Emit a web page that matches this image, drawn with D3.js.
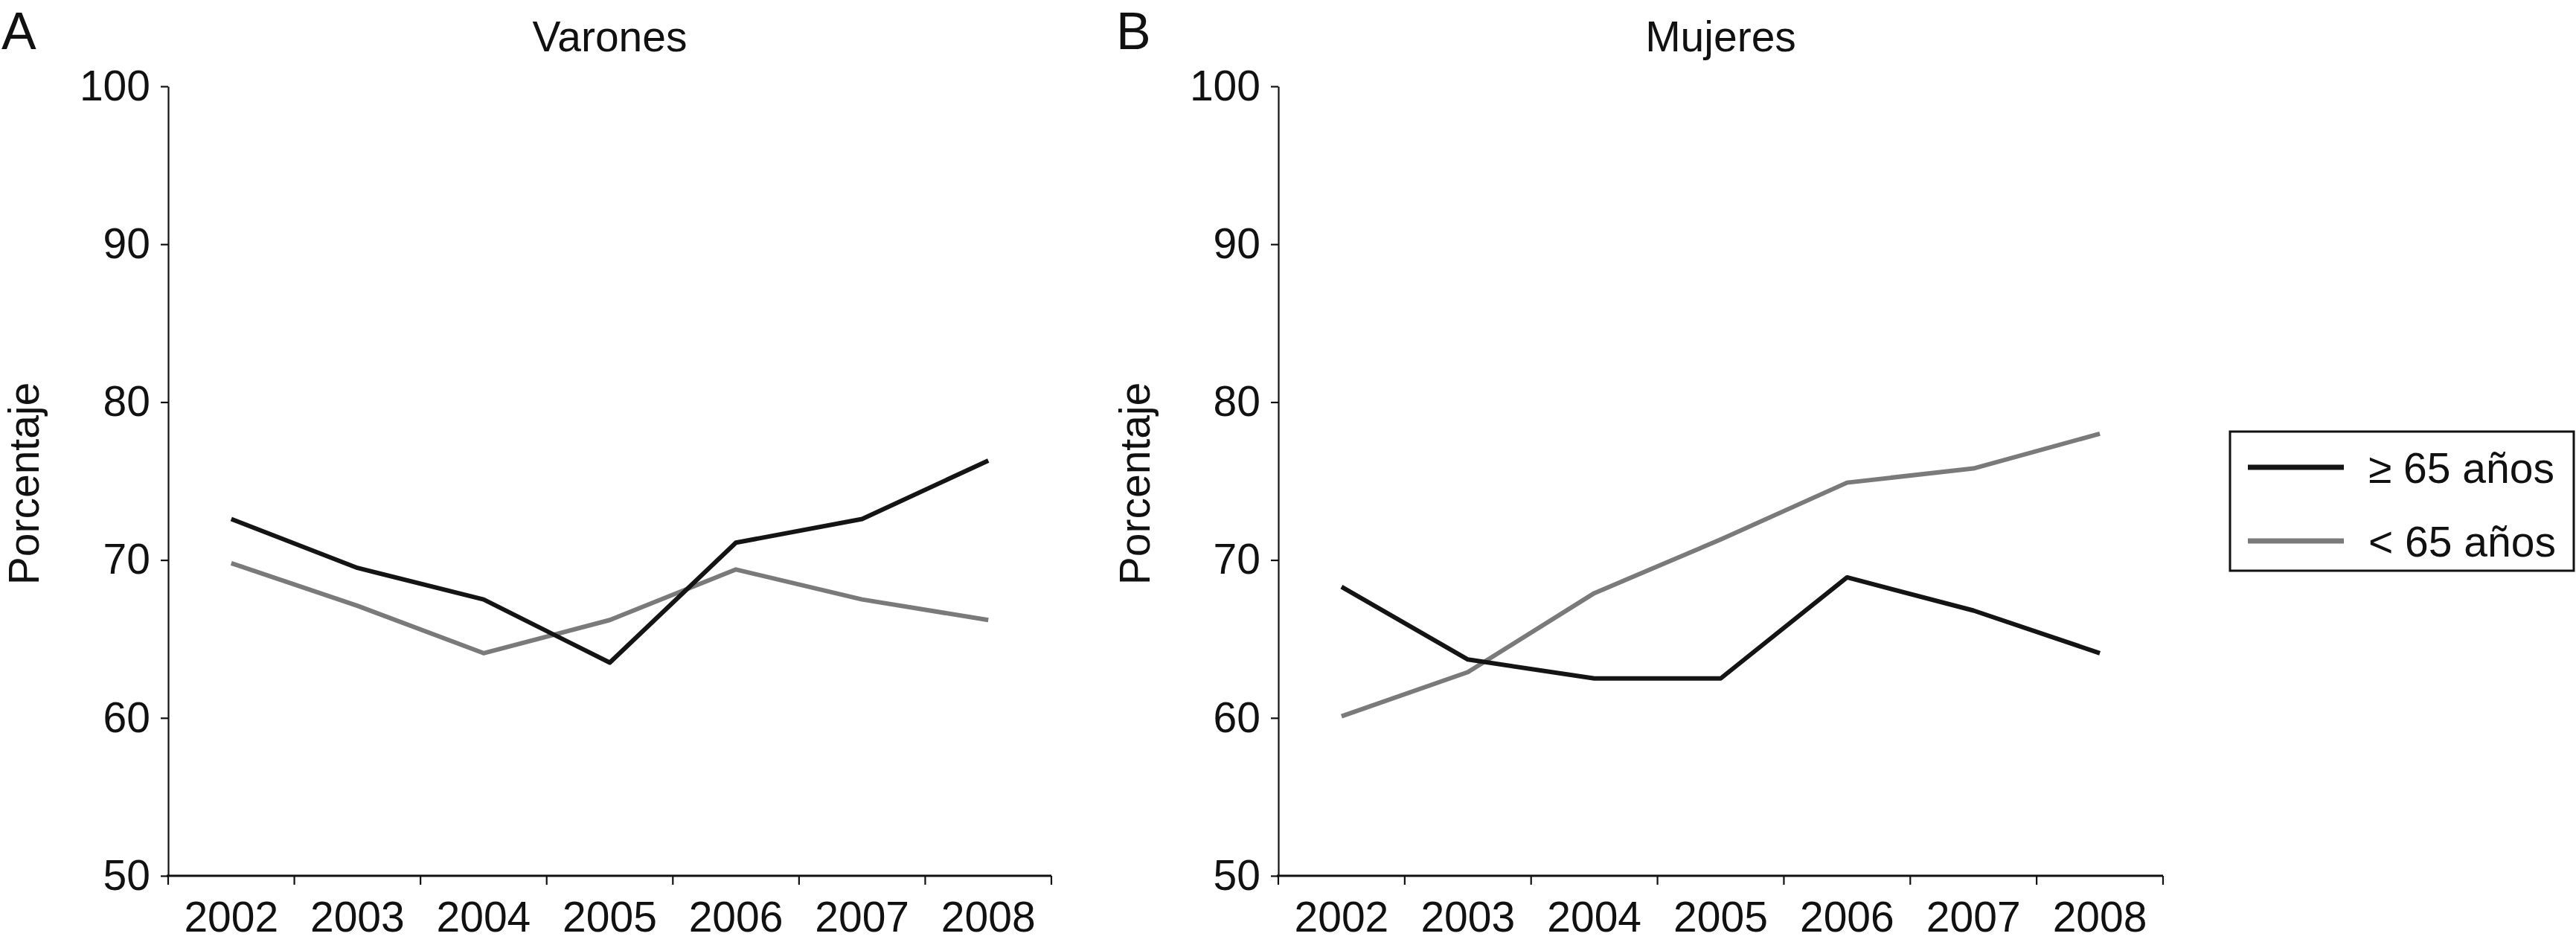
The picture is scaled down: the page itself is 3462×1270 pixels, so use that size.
<!DOCTYPE html>
<html>
<head>
<meta charset="utf-8">
<script src="https://cdn.jsdelivr.net/npm/d3@7"></script>
<style>
  body { margin: 0; background: #fff; }
  svg { display: block; font-family: "Liberation Sans", Arial, sans-serif; }
</style>
</head>
<body>
<svg id="chart" width="3462" height="1270"></svg>
<script>
// --- data -------------------------------------------------------------------
const years = ['2002', '2003', '2004', '2005', '2006', '2007', '2008'];
const yTicks = [50, 60, 70, 80, 90, 100];

const varonesMayor = [72.6, 69.5, 67.5, 63.5, 71.1, 72.6, 76.3];
const varonesMenor = [69.8, 67.1, 64.1, 66.2, 69.4, 67.5, 66.2];
const mujeresMayor = [68.3, 63.7, 62.5, 62.5, 68.9, 66.8, 64.1];
const mujeresMenor = [60.1, 62.9, 67.9, 71.3, 74.9, 75.8, 78.0];

const seriesNames = ['\u2265 65 años', '< 65 años'];

// --- styles -----------------------------------------------------------------
const COL = { DARK: '#141414', GREY: '#7a7a7a', AXIS: '#111' };
const FONT = 57;
const TOP = 116, BOTTOM = 1177;

const svg = d3.select('#chart');
svg.append('rect').attr('width', 3462).attr('height', 1270).attr('fill', '#fff');

function panel(left, right, letter, letterX, title, mayor, menor, ylabX) {
  const x = d3.scaleBand().domain(years).range([left, right]).padding(0);
  const y = d3.scaleLinear().domain([50, 100]).range([BOTTOM, TOP]);
  const g = svg.append('g');

  // y axis
  const yAx = g.append('g').attr('transform', `translate(${left},0)`)
    .call(d3.axisLeft(y).tickValues(yTicks).tickSize(10).tickPadding(14).tickSizeOuter(0));
  yAx.select('.domain').attr('stroke', COL.AXIS).attr('stroke-width', 2.2);
  yAx.selectAll('.tick line').attr('stroke', COL.AXIS).attr('stroke-width', 2.2);
  yAx.selectAll('text').attr('font-size', FONT).attr('fill', '#111')
    .attr('font-family', '"Liberation Sans", Arial, sans-serif');

  // x axis: labels at band centres, ticks at band edges
  g.append('line')
    .attr('x1', left - 2).attr('x2', right)
    .attr('y1', BOTTOM).attr('y2', BOTTOM)
    .attr('stroke', COL.AXIS).attr('stroke-width', 3.2);
  const edges = years.map(d => x(d)).concat([x.range()[1]]);
  g.selectAll('line.xt').data(edges).join('line').attr('class', 'xt')
    .attr('x1', d => d).attr('x2', d => d)
    .attr('y1', BOTTOM).attr('y2', BOTTOM + 12)
    .attr('stroke', COL.AXIS).attr('stroke-width', 2.2);
  g.selectAll('text.xl').data(years).join('text').attr('class', 'xl')
    .attr('x', d => x(d) + x.bandwidth() / 2)
    .attr('y', 1252)
    .attr('text-anchor', 'middle')
    .attr('font-size', FONT).attr('fill', '#111')
    .text(d => d);

  // y label
  g.append('text')
    .attr('transform', `translate(${ylabX},650) rotate(-90)`)
    .attr('text-anchor', 'middle')
    .attr('font-size', FONT).attr('fill', '#111')
    .text('Porcentaje');

  // title + panel letter
  g.append('text').attr('x', (left + right) / 2).attr('y', 69)
    .attr('text-anchor', 'middle').attr('font-size', FONT).attr('fill', '#111')
    .text(title);
  g.append('text').attr('x', letterX).attr('y', 66)
    .attr('font-size', 70).attr('fill', '#111')
    .text(letter);

  // lines
  const line = d3.line()
    .x((d, i) => x(years[i]) + x.bandwidth() / 2)
    .y(d => y(d));
  g.append('path').datum(menor).attr('d', line)
    .attr('fill', 'none').attr('stroke', COL.GREY).attr('stroke-width', 6)
    .attr('stroke-linejoin', 'round');
  g.append('path').datum(mayor).attr('d', line)
    .attr('fill', 'none').attr('stroke', COL.DARK).attr('stroke-width', 6)
    .attr('stroke-linejoin', 'round');
}

panel(226, 1413, 'A', 2, 'Varones', varonesMayor, varonesMenor, 52);
panel(1718, 2907, 'B', 1500, 'Mujeres', mujeresMayor, mujeresMenor, 1545);

// --- legend -----------------------------------------------------------------
const leg = svg.append('g');
leg.append('rect').attr('x', 2997).attr('y', 580).attr('width', 462).attr('height', 187)
  .attr('fill', '#fff').attr('stroke', '#111').attr('stroke-width', 3);
const legY = d3.scalePoint().domain(seriesNames).range([628, 727]);
const legCol = d3.scaleOrdinal().domain(seriesNames).range([COL.DARK, COL.GREY]);
leg.selectAll('line.lg').data(seriesNames).join('line').attr('class', 'lg')
  .attr('x1', 3021).attr('x2', 3150)
  .attr('y1', d => legY(d)).attr('y2', d => legY(d))
  .attr('stroke', d => legCol(d)).attr('stroke-width', 7);
leg.selectAll('text.lg').data(seriesNames).join('text').attr('class', 'lg')
  .attr('x', 3183).attr('y', d => legY(d) + 21)
  .attr('font-size', FONT).attr('fill', '#111')
  .text(d => d);
</script>
</body>
</html>
